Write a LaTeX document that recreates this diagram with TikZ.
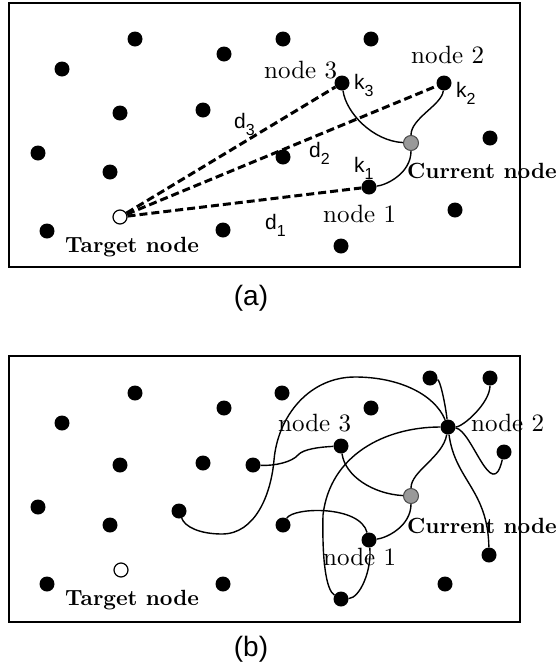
\documentclass[tikz,border=0pt]{standalone}
\usepackage{fontspec}
\setmainfont{lmroman10}[Extension=.otf, UprightFont=*-regular, BoldFont=*-bold, ItalicFont=*-italic, BoldItalicFont=*-bolditalic]
\newfontfamily\sansf{Liberation Sans}
\newcommand{\mysub}[1]{\raisebox{-7pt}{\fontsize{16}{16}\selectfont #1}}
\begin{document}
\begin{tikzpicture}[x=1pt,y=-1pt,
  dot/.style={circle,fill=black,inner sep=0pt,minimum size=15pt},
  curnode/.style={circle,fill=black!40,draw=black!70,line width=1pt,inner sep=0pt,minimum size=15pt},
  tgt/.style={circle,fill=white,draw=black,line width=1.2pt,inner sep=0pt,minimum size=14pt},
  framebox/.style={draw=black,line width=1.8pt},
  dashline/.style={line width=3pt,dash pattern=on 8pt off 4pt},
  link/.style={line width=1.4pt},
  lbl/.style={inner sep=0pt,anchor=base west,font=\fontsize{25}{25}\selectfont},
  blbl/.style={inner sep=0pt,anchor=base west,font=\fontsize{22}{22}\selectfont\bfseries},
  slbl/.style={inner sep=0pt,anchor=base west,font=\sansf\fontsize{21}{21}\selectfont},
  panellbl/.style={inner sep=0pt,anchor=center,font=\sansf\fontsize{28}{28}\selectfont}
]
\useasboundingbox (0,0) rectangle (558,670);

% ---------------- panel (a) ----------------
\draw[framebox] (9,3) rectangle (520,267);
\node[dot] (a1) at (135,39) {};
\node[dot] (a2) at (283,39) {};
\node[dot] (a3) at (371,39) {};
\node[dot] (a4) at (224,54) {};
\node[dot] (a5) at (62,69) {};
\node[dot] (an3) at (342,83) {};
\node[dot] (an2) at (444,83) {};
\node[dot] (a6) at (120,113) {};
\node[dot] (a7) at (203,110) {};
\node[dot] (a8) at (490,138) {};
\node[curnode] (acur) at (411,143) {};
\node[dot] (a9) at (38,153) {};
\node[dot] (a10) at (283,157) {};
\node[dot] (a11) at (110,172) {};
\node[dot] (an1) at (369,187) {};
\node[dot] (a12) at (455,210) {};
\node[tgt] (atgt) at (120,217) {};
\node[dot] (a13) at (47,231) {};
\node[dot] (a14) at (223,230) {};
\node[dot] (a15) at (341,246) {};

\draw[dashline] (atgt) -- (an3);
\draw[dashline] (atgt) -- (an2);
\draw[dashline] (atgt) -- (an1);

\draw[link] (an3) .. controls (346,113) and (373,141) .. (acur);
\draw[link] (an2) .. controls (442,105) and (411,118) .. (acur);
\draw[link] (acur) .. controls (411,173) and (387,185) .. (an1);

\node[lbl] (la3) at (264,78) {node 3};
\node[lbl] (la2) at (411,63) {node 2};
\node[lbl] (la1) at (323,222) {node 1};
\node[blbl] (lacur) at (407,178) {Current node};
\node[blbl] (latgt) at (65,252) {Target node};
\node[slbl] (lk3) at (354,89) {k\mysub{3}};
\node[slbl] (lk2) at (456,97) {k\mysub{2}};
\node[slbl] (lk1) at (354,172) {k\mysub{1}};
\node[slbl] (ld3) at (234,128) {d\mysub{3}};
\node[slbl] (ld2) at (309,157) {d\mysub{2}};
\node[slbl] (ld1) at (265,229) {d\mysub{1}};
\node[panellbl] (capa) at (251,298) {(a)};

% ---------------- panel (b) ----------------
\draw[framebox] (9,356) rectangle (520,622);
\node[dot] (b1) at (135,393) {};
\node[dot] (b2) at (282,393) {};
\node[dot] (b3) at (224,408) {};
\node[dot] (b4) at (371,408) {};
\node[dot] (b5) at (62,423) {};
\node[dot] (b6) at (430,378) {};
\node[dot] (b7) at (490,378) {};
\node[dot] (bn2) at (448,427) {};
\node[dot] (bn3) at (341,446) {};
\node[dot] (b8) at (504,452) {};
\node[dot] (b9) at (120,465) {};
\node[dot] (b10) at (203,463) {};
\node[dot] (b11) at (253,465) {};
\node[dot] (b12) at (38,507) {};
\node[dot] (b13) at (110,525) {};
\node[dot] (b14) at (179,511) {};
\node[curnode] (bcur) at (411,496) {};
\node[dot] (b15) at (283,525) {};
\node[dot] (bn1) at (369,540) {};
\node[dot] (b16) at (489,555) {};
\node[tgt] (btgt) at (121,570) {};
\node[dot] (b17) at (47,584) {};
\node[dot] (b18) at (223,584) {};
\node[dot] (b19) at (445,584) {};
\node[dot] (b20) at (341,599) {};

\draw[link] (bn3) .. controls (345,476) and (373,494) .. (bcur);
\draw[link] (bcur) .. controls (411,526) and (387,538) .. (bn1);
\draw[link] (bcur) .. controls (411,471) and (443,457) .. (bn2);
\draw[link] (bn2) .. controls (463,427) and (490,403) .. (b7);
\draw[link] (b6) .. controls (440,380) and (445,402) .. (bn2);
\draw[link] (bn2) .. controls (472,430) and (492,505) .. (b8);
\draw[link] (bn2) .. controls (455,480) and (488,490) .. (b16);
\draw[link] (b14) .. controls (185,527) and (200,534) .. (222,534)
   .. controls (255,534) and (271,495) .. (274,460)
   .. controls (278,415) and (310,377) .. (355,377)
   .. controls (400,377) and (435,395) .. (bn2);
\draw[link] (b11) .. controls (275,466) and (292,462) .. (298,455)
   .. controls (303,449) and (320,447) .. (bn3);
\draw[link] (bn2) .. controls (385,427) and (330,455) .. (323,515)
   .. controls (322,560) and (326,590) .. (b20);
\draw[link] (b20) .. controls (360,598) and (372,570) .. (bn1);
\draw[link] (b15) .. controls (293,507) and (360,505) .. (bn1);

\node[lbl] (lb3) at (278,431) {node 3};
\node[lbl] (lb2) at (471,431) {node 2};
\node[lbl] (lb1) at (323,565) {node 1};
\node[blbl] (lbcur) at (407,533) {Current node};
\node[blbl] (lbtgt) at (65,605) {Target node};
\node[panellbl] (capb) at (251,649) {(b)};
\end{tikzpicture}
\end{document}
